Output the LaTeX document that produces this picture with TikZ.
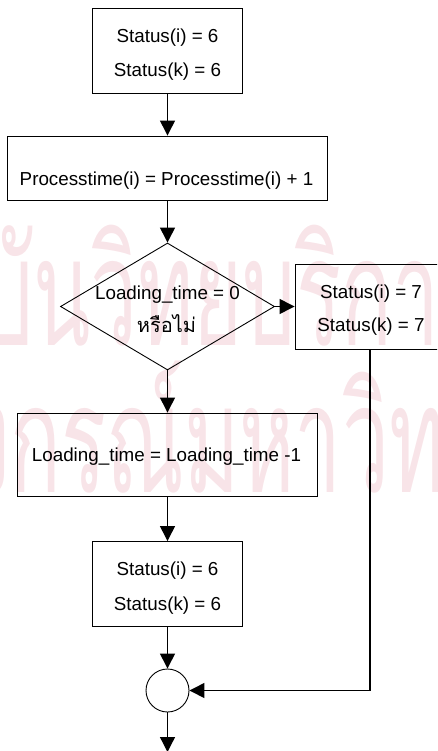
\documentclass[tikz,border=0pt]{standalone}
\usepackage{fontspec}
\usepackage{graphicx}
\setmainfont{Liberation Sans}
\newfontfamily\thaifont[Script=Thai]{Loma}
\usetikzlibrary{arrows.meta,shapes.geometric}
\definecolor{wmpink}{RGB}{248,228,232}
\tikzset{
  flowbox/.style={draw, rectangle, line width=0.9pt, inner sep=0pt},
  lbl/.style={inner sep=0pt, anchor=base, font=\fontsize{18.8}{22}\selectfont},
  conn/.style={line width=1.3pt, -{Triangle[length=15pt,width=15pt]}},
  wmark/.style={inner sep=0pt, anchor=base west,
    font=\thaifont\fontsize{150}{150}\selectfont}
}
\newcommand{\stamptext}[2]{\scalebox{0.56}[1]{\color{wmpink}\llap{#1}#2}}
\begin{document}
\begin{tikzpicture}[x=1pt,y=-1pt]
\useasboundingbox (0,0) rectangle (437,751);
\clip (0,0) rectangle (437,751);

% background stamp
\node[wmark] (wm1) at (-20,345) {\stamptext{สถา}{บันวิทยบริการ}};
\node[wmark] (wm2) at (10,492) {\stamptext{จุฬาลง}{กรณ์มหาวิทยาลัย}};

% boxes
\node[flowbox, minimum width=150pt, minimum height=85pt] (s1) at (167.5,50.5) {};
\node[lbl] (s1a) at (167.5,43) {Status(i) = 6};
\node[lbl] (s1b) at (167.5,77) {Status(k) = 6};

\node[flowbox, minimum width=320pt, minimum height=64pt] (p) at (167.5,168) {};
\node[lbl] (pt) at (166.5,186) {Processtime(i) = Processtime(i) + 1};

\node[draw, diamond, line width=0.9pt, inner sep=0pt,
      minimum width=214pt, minimum height=127pt] (dec) at (167.5,306.5) {};
\node[lbl] (deca) at (167.5,299) {Loading\_time = 0};
\node[lbl, font=\thaifont\fontsize{20}{24}\selectfont] (decb) at (166.5,332) {หรือไม่};

\node[flowbox, minimum width=150pt, minimum height=85pt] (s7) at (370,306.5) {};
\node[lbl] (s7a) at (371,298) {Status(i) = 7};
\node[lbl] (s7b) at (371,331) {Status(k) = 7};

\node[flowbox, minimum width=300pt, minimum height=83pt] (ld) at (167.5,454.5) {};
\node[lbl] (ldt) at (166.5,461.5) {Loading\_time = Loading\_time -1};

\node[flowbox, minimum width=150pt, minimum height=85pt] (s4) at (167.5,584) {};
\node[lbl] (s4a) at (167.5,575) {Status(i) = 6};
\node[lbl] (s4b) at (167.5,610) {Status(k) = 6};

\node[draw, circle, line width=0.9pt, inner sep=0pt, minimum size=43pt] (j) at (167.5,690.5) {};
\coordinate (out) at (167.5,752);

% connectors
\draw[conn] (s1) -- (p);
\draw[conn] (p) -- (dec);
\draw[conn] (dec) -- (s7);
\draw[conn] (dec) -- (ld);
\draw[conn] (ld) -- (s4);
\draw[conn] (s4) -- (j);
\draw[conn] (s7.south) |- (j.east);
\draw[conn] (j) -- (out);
\end{tikzpicture}
\end{document}
